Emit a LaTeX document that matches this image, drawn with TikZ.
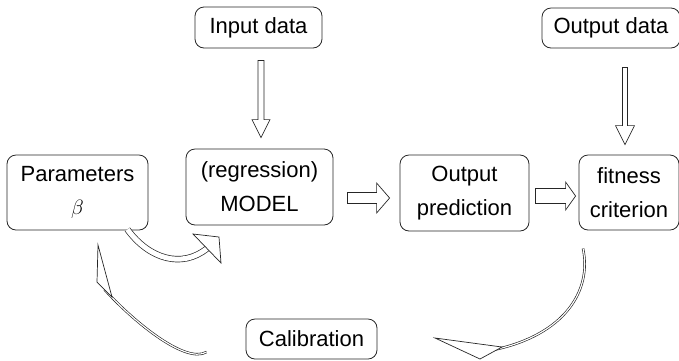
\documentclass[tikz,border=0pt]{standalone}
\usepackage{fontspec}
\setmainfont{Liberation Sans}
\usetikzlibrary{calc}

\tikzset{
  box/.style={draw=black!85, line width=0.8pt, rounded corners=9pt, align=center,
    inner sep=0pt, font=\fontsize{22}{34}\selectfont},
  hollow/.style={draw=black!85, line width=0.7pt, fill=white, line join=miter},
  bigshaft/.style={draw=black!85, line width=0.7pt, double=white, double distance=5pt},
  thinshaft/.style={draw=black!90, line width=0.6pt, double=white, double distance=1.2pt},
}

% straight block arrow: #1 start, #2 end, #3 shaft half width, #4 head half width, #5 head length
\newcommand\blockarrow[5]{%
  \path[hollow] let \p1=(#1), \p2=(#2),
      \n1={veclen(\x2-\x1,\y2-\y1)}, \n2={atan2(\y2-\y1,\x2-\x1)} in
    [shift={(\p1)}, rotate=\n2]
    (0,#3) -- ({\n1-#5},#3) -- ({\n1-#5},#4) -- (\n1,0)
    -- ({\n1-#5},-#4) -- ({\n1-#5},-#3) -- (0,-#3) -- cycle;%
}

\begin{document}
\begin{tikzpicture}[x=1pt, y=-1pt]
  \useasboundingbox (0,0) rectangle (679,360);

  % blocks
  \node[box, minimum width=127, minimum height=41] (inp)  at (258.5,27.5) {Input data};
  \node[box, minimum width=138, minimum height=40] (outd) at (611,28)     {Output data};
  \node[box, minimum width=141, minimum height=75] (par)  at (77.5,192.5) {Parameters\\[-1pt]$\beta$};
  \node[box, minimum width=147, minimum height=76] (mod)  at (259.5,187)  {(regression)\\MODEL};
  \node[box, minimum width=129, minimum height=76] (pred) at (464.5,193)  {Output\\prediction};
  \node[box, minimum width=100, minimum height=75] (fit)  at (629,192.5)  {fitness\\criterion};
  \node[box, minimum width=131, minimum height=40] (cal)  at (311.5,339)  {Calibration};

  % straight hollow arrows
  \coordinate (a1s) at ($(inp.south)+(2.5,12)$);
  \coordinate (a1e) at ($(mod.north)+(1.5,-11)$);
  \blockarrow{a1s}{a1e}{3}{9}{18}

  \coordinate (a2s) at ($(outd.south)+(14,19)$);
  \coordinate (a2e) at ($(fit.north)+(-4,-10)$);
  \blockarrow{a2s}{a2e}{2.5}{9.5}{19}

  \coordinate (a3s) at ($(mod.east)+(14,11)$);
  \coordinate (a3e) at ($(pred.west)+(-10,5)$);
  \blockarrow{a3s}{a3e}{5.5}{15}{13}

  \coordinate (a4s) at ($(pred.east)+(6,3)$);
  \coordinate (a4e) at ($(fit.west)+(-3,3.5)$);
  \blockarrow{a4s}{a4e}{7.5}{14}{10}

  % curved hollow arrow: parameters into the model
  \coordinate (c1s) at ($(par.south east)+(-21,-1)$);
  \coordinate (h1)  at (207,248.5);
  \draw[bigshaft] (c1s) .. controls ($(c1s)+(22,30)$) and ($(h1)+(-25,20)$) .. (h1);
  \path[hollow] ($(h1)+(-14,-14.5)$) -- ($(h1)+(12,-11.5)$) -- ($(h1)+(14,14.5)$) -- cycle;

  % calibration loop: fitness criterion -> calibration
  \coordinate (c3s) at ($(fit.south)+(-46,18)$);
  \coordinate (h3)  at (491,353);
  \draw[thinshaft] (c3s) .. controls ($(c3s)+(9,42)$) and ($(h3)+(74,-18)$) .. ($(h3)+(2,-3)$);
  \path[hollow] ($(h3)+(-56,-15)$) -- ($(h3)+(11,-6)$) -- ($(h3)+(-11,6)$) -- cycle;

  % calibration loop: calibration -> parameters
  \coordinate (c2s) at ($(cal.west)+(-39,13)$);
  \coordinate (h2)  at (104.5,289.5);
  \draw[thinshaft] (c2s) .. controls ($(c2s)+(-22,13)$) and ($(h2)+(25,28)$) .. (h2);
  \path[hollow] ($(h2)+(-6.5,-44.5)$) -- ($(h2)+(7.5,7.5)$) -- ($(h2)+(-7.5,-7.5)$) -- cycle;
\end{tikzpicture}
\end{document}
